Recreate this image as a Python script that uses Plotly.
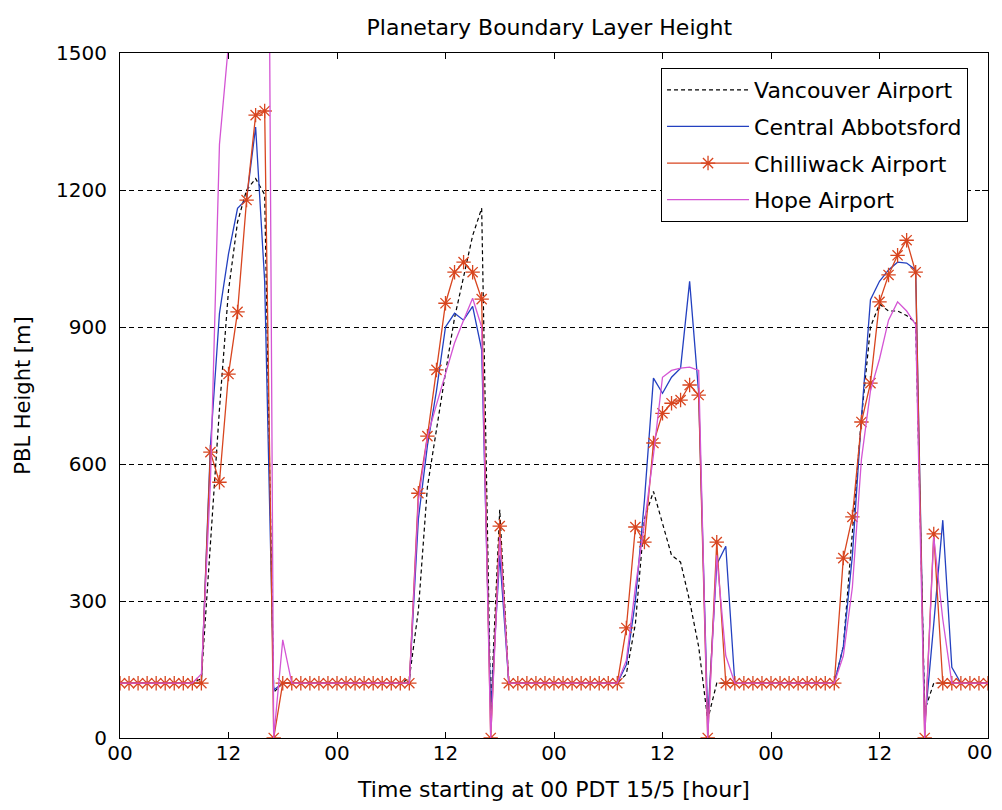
import plotly.graph_objects as go

hours = list(range(97))
tick_hours = [0, 12, 24, 36, 48, 60, 72, 84, 96]
tick_text = ["00", "12", "00", "12", "00", "12", "00", "12", ""]
last_tick_label = "00"
y_ticks = [0, 300, 600, 900, 1200, 1500]

vancouver = [120, 120, 120, 120, 120, 120, 120, 120, 120,
             130, 430, 720, 980, 1130, 1200, 1225, 1190, 100,
             120, 120, 120, 120, 120, 120, 120, 120, 120, 120, 120, 120, 120, 120,
             130, 280, 550, 680, 800, 920, 1010, 1100, 1160, 60, 500,
             120, 120, 120, 120, 120, 120, 120, 120, 120, 120, 120, 120, 120,
             140, 250, 480, 540, 470, 400, 385, 300, 200, 40,
             120, 120, 120, 120, 120, 120, 120, 120, 120, 120, 120, 120, 120, 120,
             200, 450, 700, 900, 950, 935, 935, 925, 910, 60,
             120, 120, 120, 120, 120, 120, 120]

abbotsford = [120, 120, 120, 120, 120, 120, 120, 120, 120, 120,
              640, 930, 1060, 1160, 1180, 1338, 1000, 105,
              120, 120, 120, 120, 120, 120, 120, 120, 120, 120, 120, 120, 120, 120, 120,
              480, 640, 760, 900, 930, 915, 945, 850, 60, 400,
              120, 120, 120, 120, 120, 120, 120, 120, 120, 120, 120, 120, 120,
              160, 300, 520, 788, 755, 790, 810, 1000, 755, 40, 380, 420, 120,
              120, 120, 120, 120, 120, 120, 120, 120, 120, 120, 120,
              200, 400, 700, 960, 1000, 1025, 1042, 1040, 1025, 30, 250, 477, 155,
              120, 120, 120, 120]

chilliwack = [120, 120, 120, 120, 120, 120, 120, 120, 120, 120,
              626, 560, 797, 933, 1178, 1364, 1373, 0,
              120, 120, 120, 120, 120, 120, 120, 120, 120, 120, 120, 120, 120, 120, 120,
              536, 661, 806, 952, 1020, 1042, 1020, 961, 0, 464,
              120, 120, 120, 120, 120, 120, 120, 120, 120, 120, 120, 120, 120,
              241, 462, 429, 646, 711, 733, 740, 773, 751, 0, 429,
              120, 120, 120, 120, 120, 120, 120, 120, 120, 120, 120, 120, 120,
              394, 484, 692, 777, 955, 1014, 1057, 1090, 1020, 0, 447,
              120, 120, 120, 120, 120, 120]

hope = [120, 120, 120, 120, 120, 120, 120, 120, 120,
        140, 560, 1300, 1520, 2500, 3000, 3300, 3400, 0, 215,
        120, 120, 120, 120, 120, 120, 120, 120, 120, 120, 120, 120, 120, 120,
        520, 660, 730, 800, 865, 915, 963, 900, 0, 440,
        120, 120, 120, 120, 120, 120, 120, 120, 120, 120, 120, 120, 120,
        170, 330, 470, 620, 790, 805, 810, 812, 805, 0, 400, 180,
        120, 120, 120, 120, 120, 120, 120, 120, 120, 120, 120, 120,
        180, 330, 610, 760, 830, 915, 955, 935, 905, 0, 440, 260,
        120, 120, 120, 120, 120]

FONT = "DejaVu Sans"
fig = go.Figure()
fig.add_trace(go.Scatter(x=hours, y=vancouver, mode="lines", name="Vancouver Airport",
                         legendgroup="a",
                         line=dict(color="#000000", width=1.2, dash="4px,3px")))
fig.add_trace(go.Scatter(x=hours, y=abbotsford, mode="lines", name="Central Abbotsford",
                         legendgroup="b",
                         line=dict(color="#2340c0", width=1.3)))
fig.add_trace(go.Scatter(x=hours, y=chilliwack, mode="lines+markers", name="Chilliwack Airport",
                         legendgroup="c",
                         line=dict(color="#d8451f", width=1.3),
                         marker=dict(symbol="asterisk-open", size=12,
                                     line=dict(color="#ff2a00", width=1.3))))
fig.add_trace(go.Scatter(x=hours, y=hope, mode="lines", name="Hope Airport",
                         legendgroup="d",
                         line=dict(color="#d455d4", width=1.3)))

fig.update_layout(
    width=986, height=794,
    margin=dict(l=112, r=6, t=45, b=64),
    paper_bgcolor="white", plot_bgcolor="white",
    font=dict(family=FONT, size=20, color="#000000"),
    title=dict(text="Planetary Boundary Layer Height", x=0.549, xanchor="center",
               y=0.976, yanchor="middle", font=dict(family=FONT, size=22)),
    legend=dict(x=0.977, y=0.978, xanchor="right", yanchor="top",
                bgcolor="white", bordercolor="black", borderwidth=1,
                font=dict(family=FONT, size=22), tracegroupgap=5,
                itemwidth=82),
    showlegend=True,
)
fig.add_annotation(x=tick_hours[-1], y=0, xref="x", yref="y", text=last_tick_label,
                   showarrow=False, xanchor="right", yanchor="top",
                   xshift=6, yshift=0, font=dict(family=FONT, size=20, color="#000000"))
fig.update_xaxes(range=[0, 96], tickvals=tick_hours, ticktext=tick_text,
                 ticks="inside", ticklen=6, tickcolor="black", automargin=False,
                 ticklabelstandoff=-3,
                 showline=True, linecolor="black", linewidth=1.2, mirror="ticks",
                 showgrid=False, zeroline=False,
                 title=dict(text="Time starting at 00 PDT 15/5 [hour]", standoff=30,
                            font=dict(family=FONT, size=22)))
fig.update_yaxes(range=[0, 1500], tickvals=y_ticks,
                 ticks="inside", ticklen=6, tickcolor="black", automargin=False,
                 ticklabelstandoff=8,
                 showline=True, linecolor="black", linewidth=1.2, mirror="ticks",
                 showgrid=True, gridcolor="black", gridwidth=1, griddash="5px,4px",
                 zeroline=False,
                 title=dict(text="PBL Height [m]", standoff=19,
                            font=dict(family=FONT, size=21)))

fig.write_html("out.html")
